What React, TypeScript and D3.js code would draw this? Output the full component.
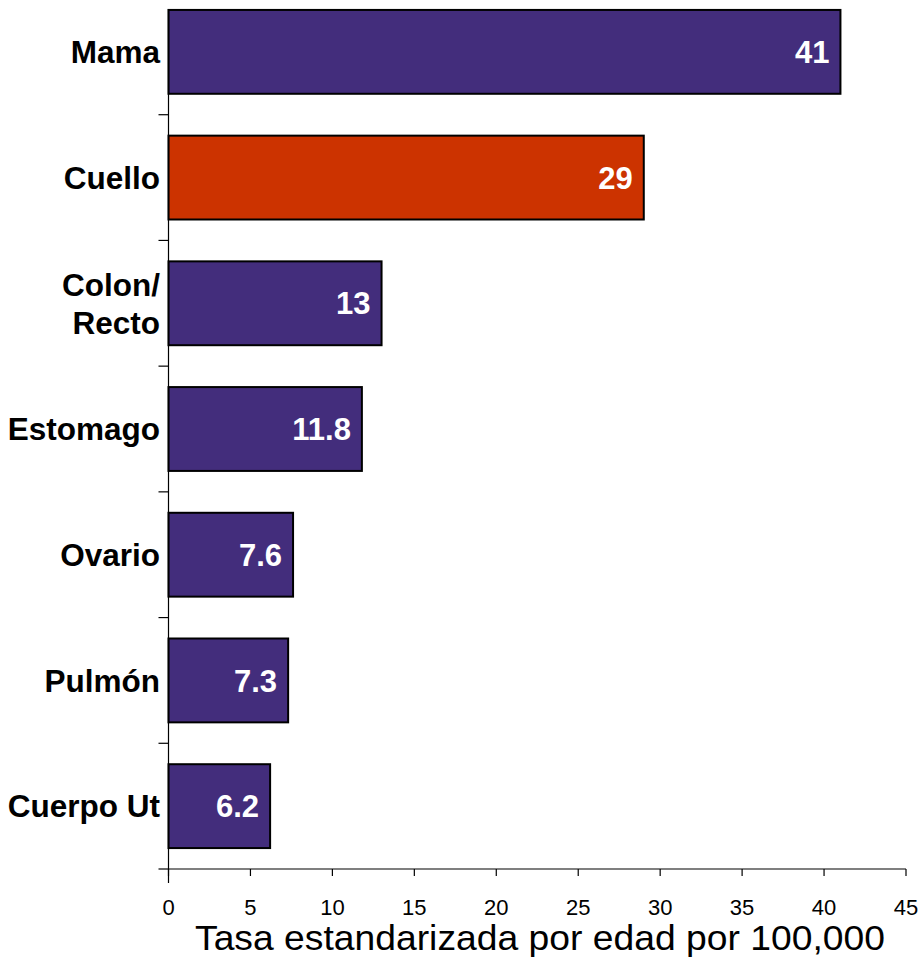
import React from "react";
import * as d3 from "d3";

const categories = ["Mama", "Cuello", "Colon/\nRecto", "Estomago", "Ovario", "Pulmón", "Cuerpo Ut"];
const values = [41, 29, 13, 11.8, 7.6, 7.3, 6.2];
const valueLabels = ["41", "29", "13", "11.8", "7.6", "7.3", "6.2"];
const highlight = ["Cuello"];
const xTicks = [0, 5, 10, 15, 20, 25, 30, 35, 40, 45];
const xTitle = "Tasa estandarizada por edad por 100,000";

const W = 921, H = 960;
const x0 = 168.5, x1 = 906;
const yTop = -11, yBottom = 869;

export default function App() {
  const x = d3.scaleLinear().domain([0, 45]).range([x0, x1]);
  const y = d3.scaleBand<string>().domain(categories).range([yTop, yBottom]).paddingInner(0.333).paddingOuter(0.1665);
  const step = y.step();
  const font = "Arial, 'Liberation Sans', Helvetica, sans-serif";
  return (
    <svg width={W} height={H} style={{ position: "absolute", left: 0, top: 0, display: "block" }} fontFamily={font}>
      <rect x={0} y={0} width={W} height={H} fill="#fff" />
      {categories.map((c, i) => {
        const by = y(c)!;
        const bw = y.bandwidth();
        const bx = x(0);
        const ex = x(values[i]);
        const lines = c.split("\n");
        const cy = by + bw / 2;
        return (
          <g key={c}>
            <rect x={bx} y={by} width={ex - bx} height={bw}
              fill={highlight.includes(c) ? "#CC3300" : "#432D7C"} stroke="#000" strokeWidth={2} />
            <text x={ex - 11} y={cy} dy="0.36em" textAnchor="end" fill="#fff" fontWeight="bold" fontSize={31}>{valueLabels[i]}</text>
            {lines.map((l, j) => (
              <text key={j} x={160} y={cy + (j - (lines.length - 1) / 2) * 38} dy="0.36em" textAnchor="end"
                fill="#000" fontWeight="bold" fontSize={31.5}>{l}</text>
            ))}
          </g>
        );
      })}
      {/* y axis */}
      <line x1={x0} x2={x0} y1={9} y2={883} stroke="#000" strokeWidth={1.2} />
      {categories.map((c, i) => {
        const ty = yTop + (i + 1) * step;
        return <line key={"t" + i} x1={x0 - 10} x2={x0} y1={ty} y2={ty} stroke="#000" strokeWidth={1.2} />;
      })}
      {/* x axis */}
      <line x1={x0} x2={x1} y1={yBottom} y2={yBottom} stroke="#000" strokeWidth={1.2} />
      {xTicks.map((t) => (
        <g key={"x" + t}>
          <line x1={x(t)} x2={x(t)} y1={yBottom} y2={yBottom + 7} stroke="#000" strokeWidth={1.2} />
          <text x={x(t)} y={915} textAnchor="middle" fontSize={22} fill="#000">{t}</text>
        </g>
      ))}
      <text x={540} y={950} textAnchor="middle" fontSize={35} textLength={690} lengthAdjust="spacingAndGlyphs" fill="#000">{xTitle}</text>
    </svg>
  );
}
